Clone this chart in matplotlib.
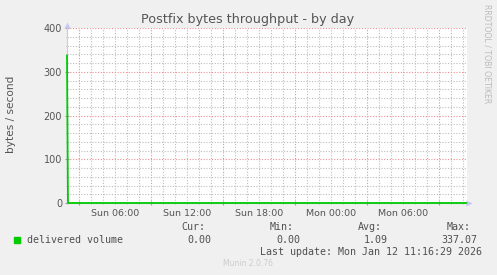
import matplotlib
matplotlib.use('Agg')
import matplotlib.pyplot as plt
from matplotlib.ticker import MultipleLocator, FixedLocator, NullFormatter

# hours since Sun 00:00
times = [2.0, 2.08, 35.27]
volume = [337.07, 0.0, 0.0]

label_hours = [6, 12, 18, 24, 30]
label_texts = ['Sun 06:00', 'Sun 12:00', 'Sun 18:00', 'Mon 00:00', 'Mon 06:00']
major_hours = [3, 9, 15, 21, 27, 33]

series_name = 'delivered volume'
cur, vmin, avg, vmax = '0.00', '0.00', '1.09', '337.07'
last_update = 'Last update: Mon Jan 12 11:16:29 2026'

W, H = 497, 275
fig = plt.figure(figsize=(W / 100, H / 100), dpi=100, facecolor='#f0f0f0')


def px(x, y):
    return x / W, 1 - y / H


ax = fig.add_axes((67 / W, (H - 203) / H, 400 / W, 175 / H))
ax.set_facecolor('white')
ax.set_xlim(2.0, 2.0 + 400 / 12)
ax.set_ylim(0, 400)

ax.xaxis.set_major_locator(FixedLocator(major_hours))
ax.xaxis.set_minor_locator(MultipleLocator(1))
ax.xaxis.set_major_formatter(NullFormatter())
ax.yaxis.set_major_locator(MultipleLocator(100))
ax.yaxis.set_minor_locator(MultipleLocator(20))

ax.grid(which='minor', color='#bdbdbd', ls=(0, (1, 1.5)), lw=0.8)
ax.grid(which='major', color='#ee9090', ls=(0, (1, 1.5)), lw=0.8)
ax.set_axisbelow(True)

ax.tick_params(axis='x', which='major', length=3, direction='inout', color='#f08080')
ax.tick_params(axis='x', which='minor', length=2, direction='inout', color='#bbbbbb')
ax.tick_params(axis='y', which='major', length=3, direction='inout', color='#999999',
               labelsize=7, labelcolor='#555555', pad=2)
ax.tick_params(axis='y', which='minor', length=2, direction='inout', color='#bbbbbb')

for s in ['top', 'right']:
    ax.spines[s].set_visible(False)
for s in ['left', 'bottom']:
    ax.spines[s].set_color('#c8c8f0')
    ax.spines[s].set_linewidth(0.8)

# axis arrows
ax.plot([0], [1.02], transform=ax.transAxes, marker='^', ms=4.5, color='#c8c8f4',
        clip_on=False, mec='none')
ax.plot([1.005], [0], transform=ax.transAxes, marker='>', ms=4.5, color='#c8c8f4',
        clip_on=False, mec='none')

for h, t in zip(label_hours, label_texts):
    ax.text(h, -0.035, t, transform=ax.get_xaxis_transform(), ha='center', va='top',
            fontsize=6.8, color='#555555')

ax.plot(times, volume, color='#00cc00', lw=1.3, clip_on=False, zorder=5)

fig.text(*px(248, 19), 'Postfix bytes throughput - by day', ha='center', va='center',
         fontsize=9.2, color='#555555')
fig.text(*px(11, 114), 'bytes / second', rotation=90, ha='center', va='center',
         fontsize=7.6, color='#555555')
fig.text(*px(487, 54), 'RRDTOOL / TOBI OETIKER', rotation=270, ha='center', va='center',
         fontsize=5.6, color='#bbbbbb')

mono = dict(family='DejaVu Sans Mono', fontsize=7.2, color='#505050', va='center')
fig.patches.append(plt.Rectangle(px(14, 243), 6 / W, 6 / H, transform=fig.transFigure,
                                 color='#00cc00'))
fig.text(*px(27, 240), series_name, ha='left', **mono)
for xr, head, val in [(205, 'Cur:', cur), (294, 'Min:', vmin), (382, 'Avg:', avg),
                      (471, 'Max:', vmax)]:
    fig.text(*px(xr, 227), head, ha='right', **mono)
    fig.text(*px(xr + 6, 240), val, ha='right', **mono)
fig.text(*px(482, 252), last_update, ha='right', **mono)
fig.text(*px(248, 264), 'Munin 2.0.76', ha='center', va='center', fontsize=5.5,
         color='#cccccc')

fig.savefig('out.png', dpi=100, facecolor=fig.get_facecolor())
